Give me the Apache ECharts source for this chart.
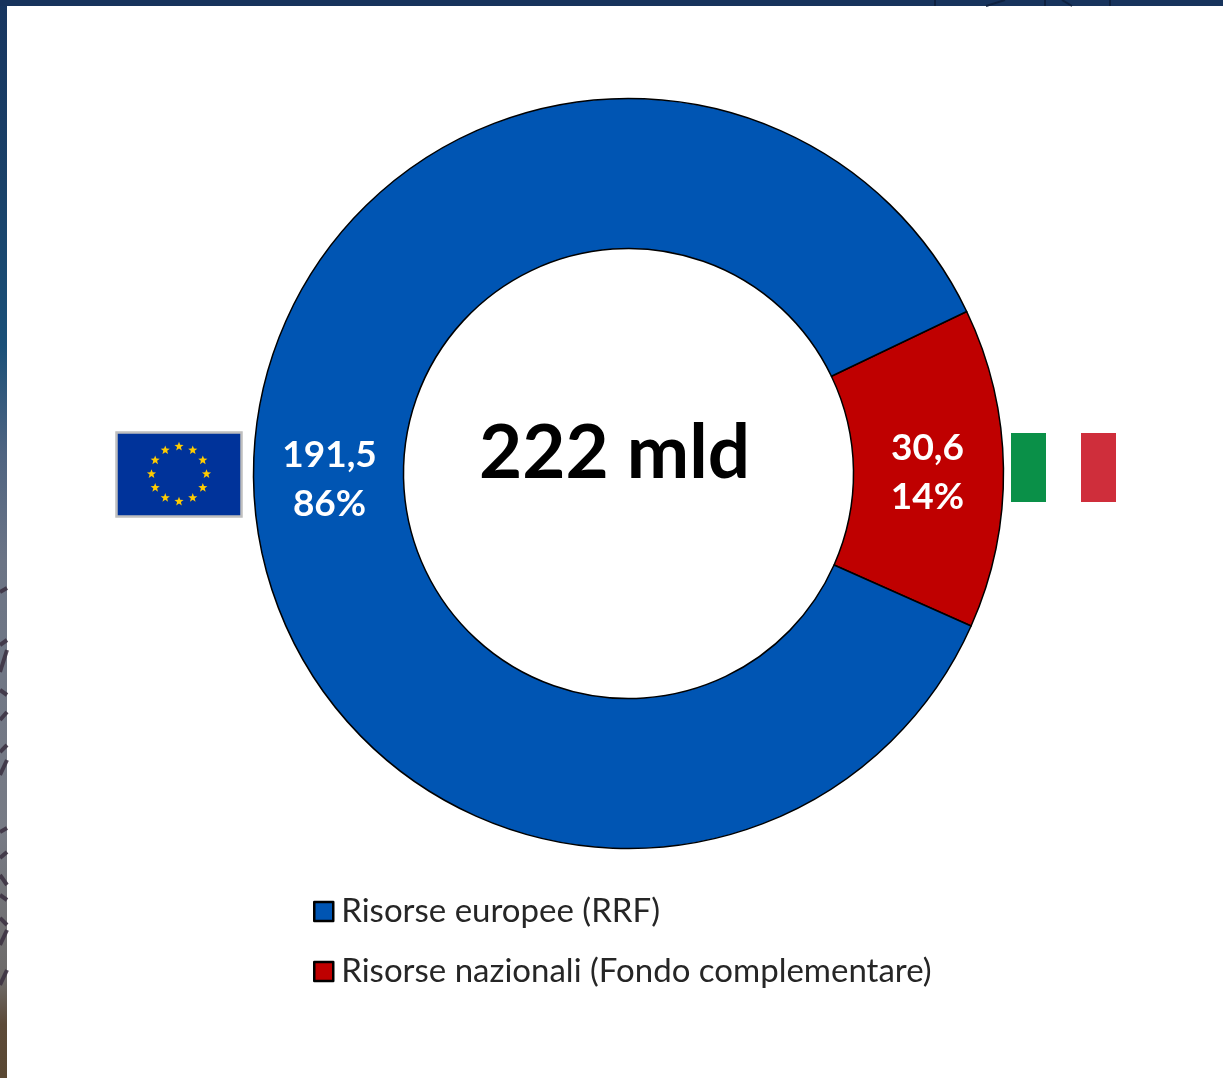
<!DOCTYPE html>
<html>
<head>
<meta charset="utf-8">
<style>html,body{margin:0;padding:0;background:#fff}#chart{width:1223px;height:1078px}</style>
<script src="https://cdn.jsdelivr.net/npm/echarts@6/dist/echarts.min.js"></script>
</head>
<body>
<div id="chart"></div>
<script>
// Funding split of the 222 billion euro plan
const categories = ['Risorse nazionali (Fondo complementare)', 'Risorse europee (RRF)'];
const amounts = [30.6, 191.5];
const amountLabels = ['30,6', '191,5'];
const shareLabels = ['14%', '86%'];
const sliceColors = ['#bf0000', '#0055b3'];
const labelOffsets = [[-4, 3], [4, 2]];
const legendOrder = ['Risorse europee (RRF)', 'Risorse nazionali (Fondo complementare)'];
const totalLabel = '222 mld';

const chart = echarts.init(document.getElementById('chart'), null, { renderer: 'canvas' });

// Five-pointed star used for the EU flag circle
function starPoints(cx, cy, r) {
  const pts = [];
  for (let i = 0; i < 10; i++) {
    const rad = i % 2 ? r * 0.42 : r;
    const a = -Math.PI / 2 + i * Math.PI / 5;
    pts.push([cx + rad * Math.cos(a), cy + rad * Math.sin(a)]);
  }
  return pts;
}

const euStars = [];
for (let i = 0; i < 12; i++) {
  const a = i * Math.PI / 6;
  euStars.push({
    type: 'polygon',
    shape: { points: starPoints(179 + 27.5 * Math.sin(a), 474 - 27.5 * Math.cos(a), 4.8) },
    style: { fill: '#ffcc00' },
    silent: true
  });
}

// Photo backdrop peeking out along the left and top edges
const leftStripGradient = new echarts.graphic.LinearGradient(0, 0, 0, 1, [
  { offset: 0, color: '#17355f' },
  { offset: 0.17, color: '#1a4168' },
  { offset: 0.32, color: '#1a5078' },
  { offset: 0.42, color: '#4f6481' },
  { offset: 0.52, color: '#6b7485' },
  { offset: 0.77, color: '#777b85' },
  { offset: 0.91, color: '#6d6a68' },
  { offset: 0.95, color: '#5c4a38' },
  { offset: 1, color: '#5a4833' }
]);

const frondStrokes = [
  [[0, 592], [7, 588]], [[0, 645], [7, 640]], [[0, 672], [7, 650]], [[0, 690], [7, 695]],
  [[0, 720], [7, 712]], [[0, 752], [7, 745]], [[0, 775], [7, 760]], [[0, 832], [7, 828]],
  [[0, 858], [7, 852]], [[0, 875], [7, 885]], [[0, 895], [7, 900]], [[0, 918], [7, 925]],
  [[0, 945], [7, 930]], [[0, 985], [7, 970]]
];
const frondGraphics = frondStrokes.map(([a, b]) => ({
  type: 'line',
  shape: { x1: a[0], y1: a[1], x2: b[0], y2: b[1] },
  style: { stroke: '#3a2f3f', lineWidth: 4, opacity: 0.85 },
  silent: true
}));

const topMarks = [
  [[935, 0], [935, 6]], [[986, 6], [1005, 0]], [[1045, 0], [1045, 6]],
  [[1062, 0], [1072, 6]], [[1110, 0], [1110, 6]]
];
const topMarkGraphics = topMarks.map(([a, b]) => ({
  type: 'line',
  shape: { x1: a[0], y1: a[1], x2: b[0], y2: b[1] },
  style: { stroke: '#0e2140', lineWidth: 2 },
  silent: true
}));

chart.setOption({
  animation: false,
  backgroundColor: '#ffffff',
  color: sliceColors,
  title: {
    text: totalLabel,
    left: 609.5,
    top: 409,
    textAlign: 'center',
    textStyle: { fontFamily: 'Lato', fontWeight: 700, fontSize: 74.5, color: '#000', lineHeight: 80 }
  },
  legend: {
    data: legendOrder,
    orient: 'vertical',
    left: 313,
    top: 892,
    padding: 0,
    icon: 'rect',
    itemWidth: 19,
    itemHeight: 19,
    itemGap: 21,
    itemStyle: { borderColor: '#000', borderWidth: 2.5 },
    textStyle: { fontFamily: 'Lato', fontSize: 33, color: '#262626', padding: [0, 0, 0, 3], lineHeight: 39 }
  },
  series: [{
    type: 'pie',
    center: [628.5, 473.5],
    radius: [225, 375],
    startAngle: 25.6,
    clockwise: true,
    avoidLabelOverlap: false,
    itemStyle: { borderColor: '#000', borderWidth: 1.5 },
    label: {
      show: true,
      position: 'inside',
      formatter: p => amountLabels[p.dataIndex] + '\n' + shareLabels[p.dataIndex],
      color: '#fff',
      fontFamily: 'Lato',
      fontWeight: 700,
      fontSize: 37,
      lineHeight: 49
    },
    labelLine: { show: false },
    emphasis: { disabled: true },
    data: categories.map((name, i) => ({
      name,
      value: amounts[i],
      label: { offset: labelOffsets[i] }
    }))
  }],
  graphic: [
    { type: 'rect', shape: { x: 0, y: 0, width: 7, height: 1078 }, style: { fill: leftStripGradient }, silent: true },
    { type: 'rect', shape: { x: 0, y: 0, width: 1223, height: 6 }, style: { fill: '#17335c' }, silent: true },
    ...frondGraphics,
    ...topMarkGraphics,
    // EU flag
    { type: 'rect', shape: { x: 116.5, y: 432.5, width: 125, height: 84 }, style: { fill: '#00339a', stroke: '#bfbfbf', lineWidth: 2.5 }, silent: true },
    ...euStars,
    // Italian flag
    { type: 'rect', shape: { x: 1011, y: 433, width: 35, height: 69 }, style: { fill: '#0a9048' }, silent: true },
    { type: 'rect', shape: { x: 1081, y: 433, width: 35, height: 69 }, style: { fill: '#cf2e3b' }, silent: true }
  ]
});
</script>
</body>
</html>
